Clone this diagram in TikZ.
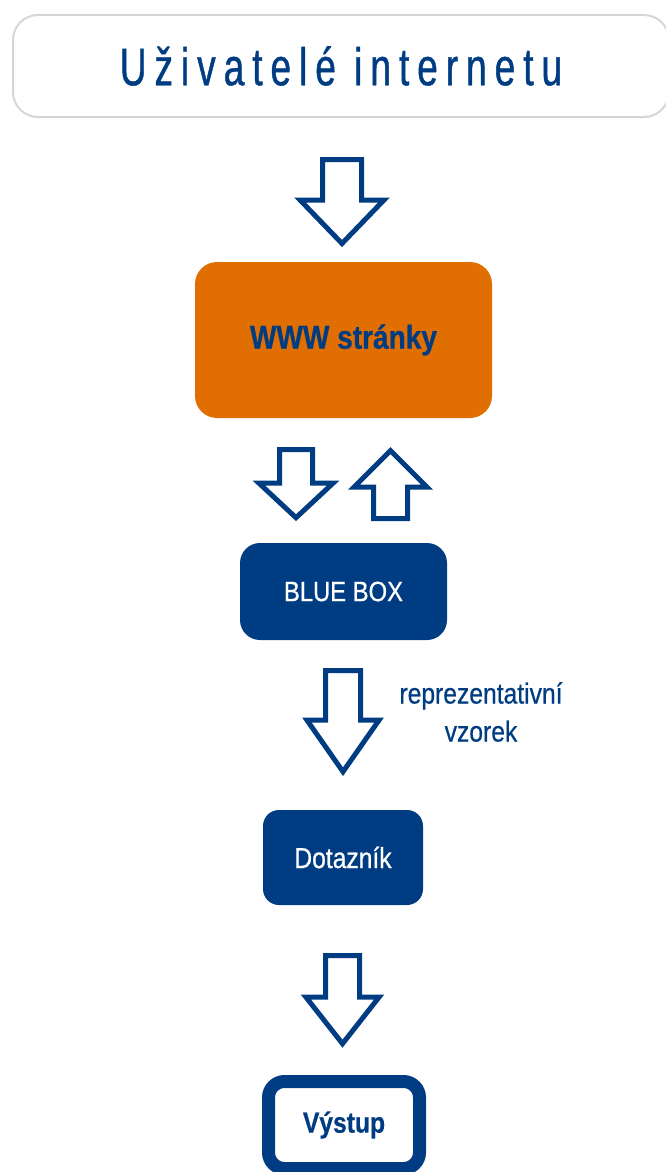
\documentclass[tikz,border=0pt]{standalone}
\usepackage{fontspec}
\usepackage{tikz}
\usetikzlibrary{calc}
\newfontfamily\narrowsans[FakeStretch=0.85, FakeBold=0.6]{Liberation Sans}
\newfontfamily\titlesans[FakeStretch=0.7, LetterSpace=15, FakeBold=0.8]{Liberation Sans}
\definecolor{bbdark}{HTML}{003C82}
\definecolor{bborange}{HTML}{E06E00}
\definecolor{bbgray}{HTML}{D6D6D6}
\tikzset{box/.style = {rectangle, inner sep=0pt, font=\narrowsans}}
\tikzset{blockarrow/.style = {draw=bbdark, line width=5pt, fill=white, line join=miter}}
% tail, length, shaft length, shaft half width, head half width
\newcommand{\blockArrow}[5]{\draw[blockarrow, shift={#1}] (-#4,0) -- (-#4,#3) -- (-#5,#3) -- (0,#2) -- (#5,#3) -- (#4,#3) -- (#4,0) -- cycle;}

\begin{document}
\begin{tikzpicture}[x=1pt, y=-1pt]
	\useasboundingbox (0,0) rectangle (665,1172);
	
	\node[box, draw=bbgray, line width=2pt, rounded corners=25pt, minimum width=656pt, minimum height=102pt, text=bbdark, font=\titlesans\fontsize{53}{60}\selectfont]
		(users) at (341,66) {Uživatelé internetu};
	\node[box, fill=bborange, rounded corners=22pt, minimum width=297pt, minimum height=156pt, text=bbdark, font=\narrowsans\bfseries\fontsize{33}{38}\selectfont]
		(www) at (343.5,340) {WWW stránky};
	\node[box, fill=bbdark, rounded corners=20pt, minimum width=207pt, minimum height=97pt, text=white, font=\narrowsans\fontsize{28}{32}\selectfont]
		(bluebox) at (343.5,591.5) {BLUE BOX};
	\node[box, fill=bbdark, rounded corners=16pt, minimum width=160pt, minimum height=95pt, text=white, font=\narrowsans\fontsize{29}{33}\selectfont]
		(dotaznik) at (343,857.5) {Dotazník};
	\node[box, draw=bbdark, line width=13pt, rounded corners=16pt, minimum width=151pt, minimum height=87pt, text=bbdark, font=\narrowsans\bfseries\fontsize{29}{33}\selectfont]
		(vystup) at (344,1125) {Výstup};
	
	\blockArrow{($(users.south)+(1,41.5)$)}{84}{40.5}{19.5}{42}
	\blockArrow{($(www.south)+(-47.5,31.5)$)}{68}{33.5}{16.5}{37}
	\blockArrow{($(www.south)+(47,100.5)$)}{-68}{-31.5}{17}{36.5}
	\blockArrow{($(bluebox.south)+(-0.5,30.5)$)}{101}{49.5}{17.5}{36}
	\blockArrow{($(dotaznik.south)+(-0.5,50.5)$)}{88}{41.5}{17}{36.5}
	
	\node[box, align=center, text=bbdark, font=\narrowsans\fontsize{29}{38}\selectfont]
		(sample) at (481,712) {reprezentativní\\vzorek};
\end{tikzpicture}
\end{document}
